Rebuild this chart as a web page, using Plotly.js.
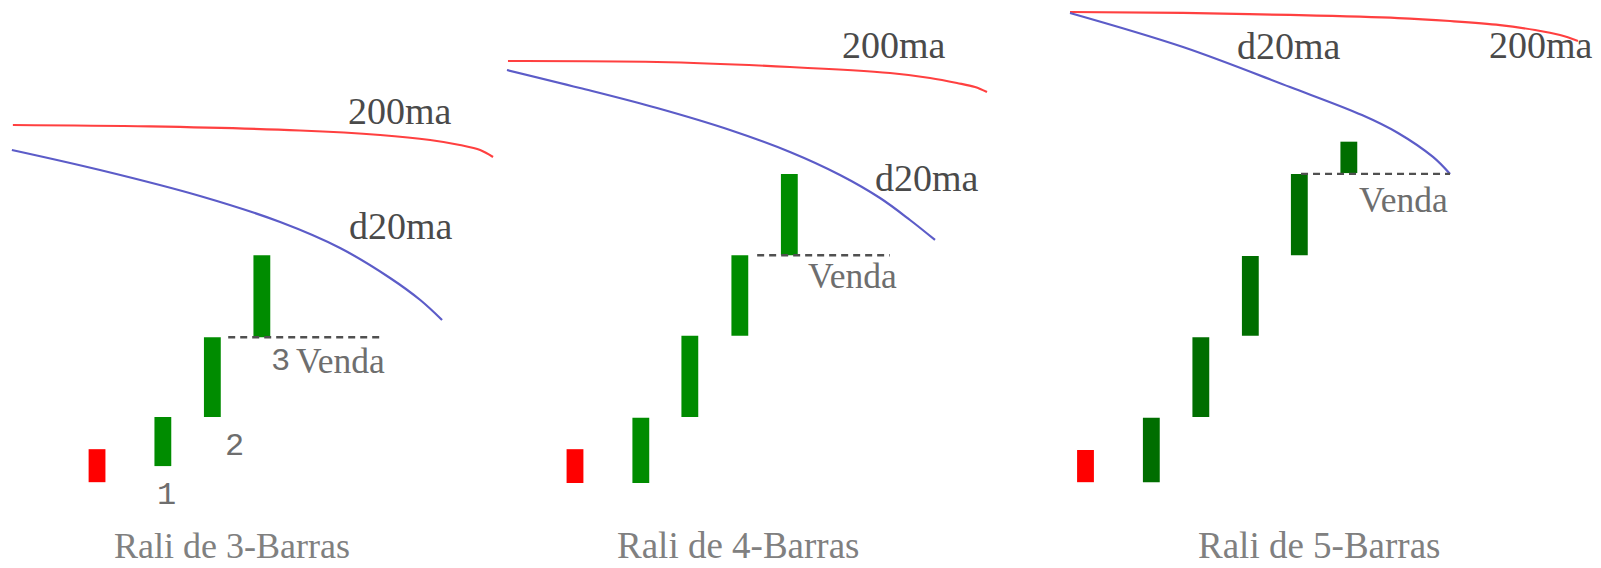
<!DOCTYPE html>
<html><head><meta charset="utf-8">
<script src="https://cdn.plot.ly/plotly-3.0.1.min.js"></script>
<style>html,body{margin:0;padding:0;background:#fff;overflow:hidden}</style>
</head><body><div id="chart" style="width:1601px;height:568px"></div>
<script>
// ---------- Panel 1: Rali de 3-Barras ----------
const rally3BarX  = [0, 1.33, 2.33, 3.33];
const rally3Low   = [0.01, 0.21, 0.82, 1.81];
const rally3High  = [0.42, 0.82, 1.81, 2.83];
const rally3Dir   = ['down', 'up', 'up', 'up'];
const rally3MA200X = [-1.70, 1.07, 4.10, 5.72, 6.73, 7.33, 7.74, 8.00];
const rally3MA200Y = [4.447, 4.429, 4.379, 4.323, 4.261, 4.199, 4.137, 4.050];
const rally3D20X   = [-1.72, 0.06, 2.08, 3.70, 4.91, 5.92, 6.53, 6.97];
const rally3D20Y   = [4.137, 3.888, 3.565, 3.242, 2.919, 2.547, 2.273, 2.025];
const rally3SellX  = [2.65, 5.72];
const rally3SellY  = [1.81, 1.81];

// ---------- Panel 2: Rali de 4-Barras ----------
const rally4BarX  = [0, 1.33, 2.32, 3.33, 4.33];
const rally4Low   = [0.00, 0.00, 0.82, 1.83, 2.83];
const rally4High  = [0.42, 0.81, 1.83, 2.83, 3.84];
const rally4Dir   = ['down', 'up', 'up', 'up', 'up'];
const rally4MA200X = [-1.354, 1.657, 4.343, 6.364, 7.172, 7.717, 8.081, 8.323];
const rally4MA200Y = [5.242, 5.230, 5.168, 5.093, 5.031, 4.969, 4.919, 4.857];
const rally4D20X   = [-1.374, 0.101, 1.657, 3.131, 4.343, 5.354, 6.162, 6.768, 7.273];
const rally4D20Y   = [5.130, 4.907, 4.658, 4.385, 4.112, 3.826, 3.540, 3.267, 3.019];
const rally4SellX  = [3.68, 6.36];
const rally4SellY  = [2.83, 2.83];

// ---------- Panel 3: Rali de 5-Barras ----------
const rally5BarX  = [0, 1.33, 2.33, 3.33, 4.32, 5.32];
const rally5Low   = [0.01, 0.01, 0.82, 1.83, 2.83, 3.85];
const rally5High  = [0.41, 0.81, 1.81, 2.82, 3.84, 4.24];
const rally5Dir   = ['down', 'up', 'up', 'up', 'up', 'up'];
const rally5MA200X = [-0.313, 1.970, 4.131, 6.313, 7.364, 8.374, 9.081, 9.586, 9.949];
const rally5MA200Y = [5.851, 5.839, 5.814, 5.776, 5.739, 5.689, 5.627, 5.565, 5.491];
const rally5D20X   = [-0.313, 1.970, 4.131, 5.586, 6.313, 7.020, 7.364];
const rally5D20Y   = [5.839, 5.416, 4.919, 4.571, 4.348, 4.050, 3.839];
const rally5SellX  = [4.354, 7.364];
const rally5SellY  = [3.84, 3.84];

// Text labels
const panelTitles = ['Rali de 3-Barras', 'Rali de 4-Barras', 'Rali de 5-Barras'];
const maLabels = ['200ma', 'd20ma'];
const sellLabel = 'Venda';
const barNumbers = ['1', '2', '3'];

// ---------- build ----------
const W = 1601, H = 568;
const px = v => v / W;
const py = v => 1 - v / H;

const RED = '#ff0000';
const panels = [
  {ax: 'x',  barX: rally3BarX, low: rally3Low, high: rally3High, dir: rally3Dir, up: '#008c00',
   maX: rally3MA200X, maY: rally3MA200Y, dX: rally3D20X, dY: rally3D20Y, sX: rally3SellX, sY: rally3SellY},
  {ax: 'x2', barX: rally4BarX, low: rally4Low, high: rally4High, dir: rally4Dir, up: '#008c00',
   maX: rally4MA200X, maY: rally4MA200Y, dX: rally4D20X, dY: rally4D20Y, sX: rally4SellX, sY: rally4SellY},
  {ax: 'x3', barX: rally5BarX, low: rally5Low, high: rally5High, dir: rally5Dir, up: '#006e00',
   maX: rally5MA200X, maY: rally5MA200Y, dX: rally5D20X, dY: rally5D20Y, sX: rally5SellX, sY: rally5SellY}
];

const traces = [];
panels.forEach(p => {
  traces.push({
    type: 'bar', xaxis: p.ax, yaxis: 'y',
    x: p.barX, base: p.low, y: p.high.map((h, i) => h - p.low[i]),
    width: 0.34,
    marker: {color: p.dir.map(d => d === 'down' ? RED : p.up), line: {width: 0}},
    hoverinfo: 'skip'
  });
  traces.push({
    type: 'scatter', mode: 'lines', xaxis: p.ax, yaxis: 'y',
    x: p.maX, y: p.maY, line: {color: '#ff4040', width: 2.2, shape: 'spline', smoothing: 1.0}, hoverinfo: 'skip'
  });
  traces.push({
    type: 'scatter', mode: 'lines', xaxis: p.ax, yaxis: 'y',
    x: p.dX, y: p.dY, line: {color: '#5c5cc8', width: 2.2, shape: 'spline', smoothing: 1.0}, hoverinfo: 'skip'
  });
  traces.push({
    type: 'scatter', mode: 'lines', xaxis: p.ax, yaxis: 'y',
    x: p.sX, y: p.sY, line: {color: '#505050', width: 2.4, dash: '7px,5px'}, hoverinfo: 'skip'
  });
});

const serif = 'Liberation Serif, Times New Roman, serif';
const mono = 'Liberation Mono, DejaVu Sans Mono, monospace';
const ann = (text, x, y, size, color, family, yanchor) => ({
  text, x: px(x), y: py(y), xref: 'paper', yref: 'paper',
  xanchor: 'center', yanchor: yanchor || 'middle', showarrow: false,
  font: {family: family || serif, size, color}
});
const maColor = '#4a4a4a', venColor = '#6e6e6e', titleColor = '#808080';

const annotations = [
  // titles
  ann(panelTitles[0], 231.5, 568, 36, titleColor, serif, 'bottom'),
  ann(panelTitles[1], 737.5, 568, 37, titleColor, serif, 'bottom'),
  ann(panelTitles[2], 1318.5, 568, 37, titleColor, serif, 'bottom'),
  // panel 1
  ann(maLabels[0], 400, 111, 38, maColor),
  ann(maLabels[1], 401, 226, 38, maColor),
  ann(sellLabel, 340, 361, 35.5, venColor),
  ann(barNumbers[0], 166, 496, 32, venColor, mono),
  ann(barNumbers[1], 234, 446, 32, venColor, mono),
  ann(barNumbers[2], 280, 361, 32, venColor, mono),
  // panel 2
  ann(maLabels[0], 894, 45, 38, maColor),
  ann(maLabels[1], 927, 178, 38, maColor),
  ann(sellLabel, 852, 276, 35.5, venColor),
  // panel 3
  ann(maLabels[1], 1289, 46, 38, maColor),
  ann(maLabels[0], 1541, 45, 38, maColor),
  ann(sellLabel, 1403, 200, 35.5, venColor)
];

const hidden = {visible: false, fixedrange: true};
const layout = {
  width: W, height: H,
  margin: {l: 0, r: 0, t: 0, b: 0, pad: 0},
  paper_bgcolor: '#ffffff', plot_bgcolor: 'rgba(0,0,0,0)',
  showlegend: false, barmode: 'overlay',
  xaxis:  Object.assign({domain: [0, px(500)], range: [-1.960, 8.141]}, hidden),
  xaxis2: Object.assign({domain: [px(500), px(1060)], range: [-1.515, 9.798], anchor: 'y'}, hidden),
  xaxis3: Object.assign({domain: [px(1060), 1], range: [-0.515, 10.414], anchor: 'y'}, hidden),
  yaxis:  Object.assign({domain: [0, 1], range: [-1.056, 6.0]}, hidden),
  annotations
};

Plotly.newPlot('chart', traces, layout, {displayModeBar: false, staticPlot: true});
</script>
</body></html>
